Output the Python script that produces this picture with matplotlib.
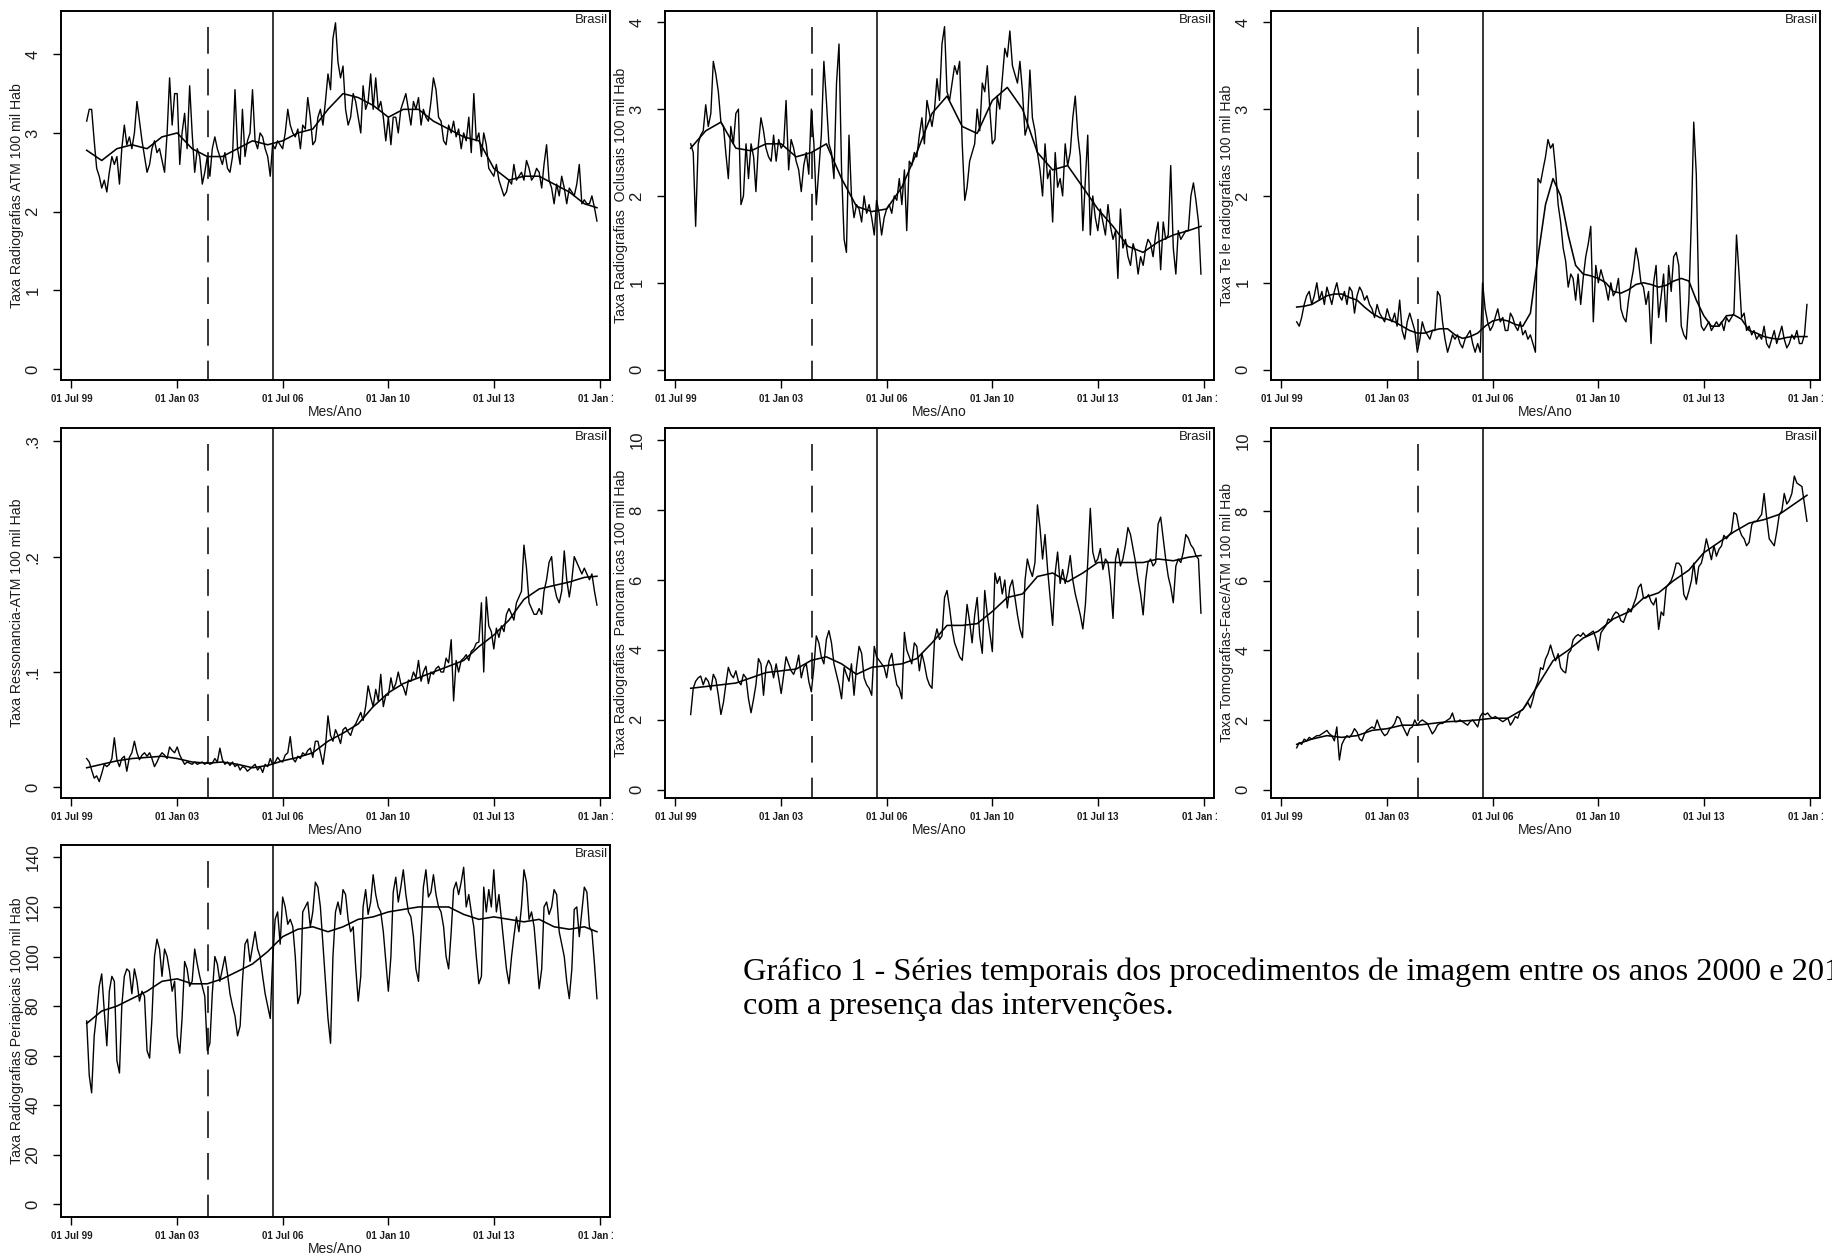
import numpy as np
import pandas as pd
import matplotlib
matplotlib.use("Agg")
import matplotlib.pyplot as plt
import matplotlib.dates as mdates
from matplotlib.transforms import Bbox, TransformedBbox, blended_transform_factory

plt.rcParams['font.family'] = ['Liberation Sans', 'DejaVu Sans']

# ---------------- data (monthly rates, Jan 2000 - Dec 2016) ----------------
months = pd.date_range("2000-01-01", periods=204, freq="MS")
smoothDates = pd.to_datetime([f"{y}-{m:02d}-01" for y in range(2000, 2017) for m in (1, 7)] + ["2016-12-01"])
teleSmoothDates = pd.to_datetime([f"{y}-{m:02d}-01" for y in range(2000, 2017) for m in (1, 4, 7, 10)] + ["2016-12-01"])

atm = [
    3.15, 3.3, 3.3, 2.9, 2.55, 2.45, 2.3, 2.4, 2.25, 2.5, 2.7, 2.6,
    2.7, 2.35, 2.8, 3.1, 2.85, 2.95, 2.8, 3.0, 3.4, 3.15, 2.9, 2.7,
    2.5, 2.6, 2.8, 2.9, 2.75, 2.8, 2.65, 2.5, 3.0, 3.7, 3.1, 3.5,
    3.5, 2.6, 3.0, 3.25, 2.8, 3.6, 3.0, 2.5, 2.8, 2.7, 2.35, 2.5,
    2.7, 2.45, 2.8, 2.95, 2.8, 2.7, 2.6, 2.75, 2.55, 2.5, 2.7, 3.55,
    2.8, 2.6, 3.3, 2.7, 2.9, 3.0, 3.55, 2.9, 2.8, 3.0, 2.95, 2.8,
    2.7, 2.45, 2.85, 2.8, 2.9, 2.85, 2.8, 3.0, 3.3, 3.1, 3.0, 2.95,
    3.05, 2.8, 3.1, 3.05, 3.45, 3.2, 2.85, 2.9, 3.2, 3.3, 3.1, 3.4,
    3.75, 3.55, 4.2, 4.4, 3.9, 3.7, 3.85, 3.3, 3.1, 3.2, 3.5, 3.4,
    3.2, 3.0, 3.6, 3.3, 3.4, 3.75, 3.3, 3.7, 3.3, 3.4, 3.2, 2.9,
    3.2, 2.85, 3.2, 3.2, 3.0, 3.3, 3.4, 3.5, 3.3, 3.1, 3.4, 3.3,
    3.45, 3.1, 3.3, 3.2, 3.15, 3.4, 3.7, 3.55, 3.2, 3.15, 2.9, 2.85,
    3.1, 3.0, 3.15, 2.95, 3.05, 2.8, 3.0, 2.9, 3.2, 2.75, 3.5, 2.9,
    3.0, 2.7, 3.0, 2.85, 2.55, 2.5, 2.45, 2.6, 2.4, 2.3, 2.2, 2.25,
    2.4, 2.35, 2.6, 2.4, 2.45, 2.5, 2.4, 2.65, 2.55, 2.4, 2.45, 2.55,
    2.5, 2.3, 2.6, 2.85, 2.4, 2.3, 2.1, 2.35, 2.2, 2.45, 2.3, 2.1,
    2.3, 2.25, 2.2, 2.35, 2.6, 2.1, 2.15, 2.1, 2.1, 2.2, 2.05, 1.88,
]
atmSmooth = [2.78, 2.65, 2.8, 2.85, 2.8, 2.95, 3.0, 2.8, 2.7, 2.7, 2.8, 2.9, 2.85, 2.9, 3.0, 3.05, 3.3, 3.5,
             3.45, 3.35, 3.2, 3.3, 3.3, 3.15, 3.05, 2.95, 2.9, 2.55, 2.4, 2.45, 2.45, 2.35, 2.25, 2.1, 2.05]

oclusais = [
    2.6, 2.5, 1.65, 2.6, 2.7, 2.75, 3.05, 2.8, 2.95, 3.55, 3.4, 3.2,
    2.85, 2.8, 2.5, 2.2, 2.8, 2.6, 2.95, 3.0, 1.9, 2.0, 2.6, 2.2,
    2.6, 2.45, 2.05, 2.6, 2.9, 2.75, 2.55, 2.45, 2.4, 2.7, 2.4, 2.65,
    2.55, 2.6, 3.1, 2.3, 2.65, 2.55, 2.4, 2.3, 2.05, 2.35, 2.5, 2.25,
    3.0, 2.6, 1.9, 2.3, 2.7, 3.55, 3.1, 2.6, 2.5, 2.2, 3.3, 3.75,
    2.3, 1.5, 1.35, 2.7, 2.0, 1.75, 1.9, 1.85, 1.7, 2.0, 1.8, 1.9,
    1.75, 1.55, 1.95, 1.8, 1.55, 1.75, 1.85, 1.9, 1.8, 2.0, 1.95, 2.2,
    1.9, 2.3, 1.6, 2.4, 2.35, 2.5, 2.45, 2.7, 2.9, 2.6, 3.1, 2.95,
    2.8, 3.0, 3.35, 3.1, 3.75, 3.95, 3.2, 3.1, 3.3, 3.5, 3.4, 3.55,
    2.6, 1.95, 2.1, 2.4, 2.5, 2.6, 3.0, 2.75, 3.3, 3.2, 3.5, 3.0,
    2.6, 2.65, 3.15, 3.0, 3.35, 3.7, 3.6, 3.9, 3.5, 3.4, 3.3, 3.55,
    3.2, 2.7, 2.8, 3.45, 2.9, 2.75, 2.5, 2.3, 2.0, 2.6, 2.2, 2.3,
    1.7, 2.5, 2.1, 2.2, 2.0, 2.6, 2.35, 2.5, 2.9, 3.15, 2.7, 2.45,
    1.6, 2.2, 2.7, 1.55, 2.0, 1.75, 1.6, 1.85, 1.7, 1.55, 1.9, 1.65,
    1.5, 1.6, 1.05, 1.85, 1.4, 1.5, 1.3, 1.2, 1.45, 1.35, 1.1, 1.3,
    1.2, 1.4, 1.5, 1.45, 1.3, 1.55, 1.7, 1.15, 1.7, 1.5, 1.55, 2.35,
    1.4, 1.1, 1.6, 1.5, 1.55, 1.6, 1.6, 2.0, 2.15, 1.95, 1.7, 1.1,
]
oclusaisSmooth = [2.55, 2.75, 2.85, 2.55, 2.52, 2.6, 2.6, 2.45, 2.5, 2.6, 2.2, 1.88, 1.82, 1.85, 2.1, 2.5, 2.95, 3.15,
                  2.8, 2.72, 3.1, 3.25, 3.0, 2.5, 2.3, 2.35, 2.1, 1.85, 1.65, 1.42, 1.35, 1.47, 1.55, 1.6, 1.65]

tele = [
    0.55, 0.5, 0.6, 0.75, 0.85, 0.9, 0.75, 0.85, 1.0, 0.8, 0.9, 0.75,
    0.95, 0.85, 0.75, 0.9, 1.0, 0.85, 0.8, 0.9, 0.75, 0.95, 0.9, 0.65,
    0.85, 0.95, 0.9, 0.8, 0.85, 0.75, 0.7, 0.6, 0.75, 0.65, 0.6, 0.55,
    0.7, 0.6, 0.55, 0.65, 0.5, 0.8, 0.45, 0.35, 0.55, 0.65, 0.55, 0.45,
    0.2, 0.35, 0.55, 0.45, 0.4, 0.35, 0.45, 0.45, 0.9, 0.85, 0.55, 0.35,
    0.2, 0.3, 0.4, 0.35, 0.4, 0.3, 0.25, 0.35, 0.4, 0.45, 0.3, 0.2,
    0.3, 0.2, 1.0, 0.7, 0.55, 0.45, 0.5, 0.6, 0.7, 0.55, 0.6, 0.45,
    0.45, 0.65, 0.6, 0.5, 0.45, 0.55, 0.4, 0.45, 0.35, 0.4, 0.3, 0.2,
    2.2, 2.15, 2.3, 2.45, 2.65, 2.55, 2.6, 2.3, 1.9, 1.7, 1.4, 1.25,
    0.95, 1.1, 1.05, 0.8, 1.1, 0.75, 1.05, 1.3, 1.45, 1.65, 0.55, 1.2,
    1.0, 1.15, 1.05, 0.95, 0.8, 1.0, 0.85, 0.9, 1.05, 0.7, 0.6, 0.55,
    0.8, 1.0, 1.15, 1.4, 1.25, 1.0, 0.95, 0.75, 0.9, 0.3, 1.0, 1.2,
    0.6, 0.85, 1.1, 0.55, 1.2, 0.9, 1.3, 1.35, 1.2, 0.5, 0.4, 0.35,
    0.8, 1.75, 2.85, 2.25, 0.8, 0.5, 0.45, 0.5, 0.55, 0.45, 0.5, 0.55,
    0.5, 0.55, 0.45, 0.6, 0.55, 0.6, 0.65, 1.55, 1.1, 0.6, 0.65, 0.45,
    0.5, 0.4, 0.45, 0.35, 0.4, 0.35, 0.5, 0.3, 0.25, 0.35, 0.45, 0.3,
    0.4, 0.5, 0.35, 0.25, 0.3, 0.4, 0.35, 0.45, 0.3, 0.3, 0.4, 0.75,
]
teleSmooth = [
    0.72, 0.73, 0.75, 0.8, 0.85, 0.87, 0.87, 0.83, 0.8, 0.72, 0.65, 0.6,
    0.58, 0.55, 0.5, 0.45, 0.42, 0.42, 0.45, 0.47, 0.47, 0.4, 0.36, 0.38,
    0.42, 0.5, 0.56, 0.58, 0.56, 0.52, 0.5, 0.65, 1.3, 1.9, 2.2, 2.0,
    1.55, 1.2, 1.1, 1.08, 1.05, 1.0, 0.9, 0.88, 0.92, 0.98, 1.0, 0.98,
    0.95, 0.97, 1.02, 1.05, 1.02, 0.8, 0.62, 0.5, 0.5, 0.62, 0.63, 0.58,
    0.45, 0.42, 0.38, 0.36, 0.35, 0.37, 0.38, 0.38, 0.38,
]

ressonancia = [
    0.025, 0.022, 0.015, 0.008, 0.01, 0.005, 0.012, 0.02, 0.018, 0.02, 0.025, 0.043,
    0.024, 0.018, 0.025, 0.027, 0.014, 0.026, 0.03, 0.04, 0.03, 0.024, 0.028, 0.03,
    0.027, 0.03, 0.025, 0.018, 0.022, 0.027, 0.03, 0.028, 0.025, 0.035, 0.032, 0.03,
    0.035, 0.028, 0.024, 0.02, 0.022, 0.021, 0.02, 0.022, 0.02, 0.021, 0.022, 0.02,
    0.022, 0.02, 0.021, 0.025, 0.022, 0.034, 0.024, 0.02, 0.022, 0.019, 0.022, 0.018,
    0.02, 0.015, 0.018, 0.017, 0.014, 0.016, 0.018, 0.02, 0.015, 0.018, 0.013, 0.02,
    0.018, 0.025, 0.02, 0.022, 0.026, 0.023, 0.022, 0.028, 0.03, 0.044, 0.025, 0.022,
    0.027, 0.025, 0.03, 0.028, 0.032, 0.034, 0.026, 0.04, 0.04, 0.03, 0.02, 0.035,
    0.062, 0.045, 0.04, 0.05, 0.045, 0.038, 0.05, 0.052, 0.048, 0.045, 0.052, 0.055,
    0.06, 0.065, 0.058, 0.07, 0.088, 0.078, 0.07, 0.085, 0.075, 0.098, 0.07, 0.08,
    0.08, 0.095, 0.085, 0.09, 0.1, 0.09, 0.087, 0.08, 0.093, 0.092, 0.1, 0.095,
    0.11, 0.092, 0.1, 0.105, 0.09, 0.1, 0.098, 0.103, 0.105, 0.1, 0.1, 0.112,
    0.108, 0.128, 0.075, 0.11, 0.1, 0.11, 0.112, 0.115, 0.11, 0.118, 0.12, 0.125,
    0.126, 0.16, 0.1, 0.165, 0.14, 0.135, 0.12, 0.138, 0.13, 0.14, 0.135, 0.15,
    0.155, 0.15, 0.145, 0.16, 0.165, 0.17, 0.21, 0.19, 0.16, 0.155, 0.15, 0.15,
    0.155, 0.15, 0.17, 0.18, 0.195, 0.2, 0.175, 0.165, 0.16, 0.17, 0.205, 0.18,
    0.165, 0.18, 0.2, 0.195, 0.19, 0.185, 0.19, 0.185, 0.18, 0.185, 0.17, 0.158,
]
ressonanciaSmooth = [0.017, 0.02, 0.023, 0.025, 0.026, 0.027, 0.025, 0.022, 0.021, 0.022, 0.02, 0.017,
                     0.019, 0.023, 0.026, 0.03, 0.04, 0.047, 0.055, 0.07, 0.082, 0.09, 0.095, 0.1,
                     0.105, 0.11, 0.122, 0.132, 0.145, 0.163, 0.172, 0.175, 0.178, 0.182, 0.183]

panoramicas = [
    2.15, 2.9, 3.1, 3.2, 3.25, 3.0, 3.2, 3.1, 2.85, 3.3, 3.15, 2.7,
    2.15, 2.5, 3.0, 3.5, 3.3, 3.2, 3.4, 3.1, 3.0, 3.3, 3.2, 2.6,
    2.2, 2.6, 3.0, 3.75, 3.6, 2.7, 3.5, 3.7, 3.55, 3.2, 3.6, 3.2,
    2.75, 3.3, 3.8, 3.6, 3.4, 3.3, 3.5, 3.85, 3.2, 3.5, 3.6, 3.1,
    2.8, 3.5, 4.4, 4.2, 3.8, 3.6, 4.3, 4.55, 4.2, 3.6, 3.3, 3.0,
    2.6, 3.5, 3.3, 3.1, 3.6, 2.7, 3.5, 4.1, 3.9, 3.2, 3.0, 2.9,
    2.7, 4.1, 3.8, 3.7, 3.6, 3.5, 3.2, 3.7, 3.9, 3.4, 3.0, 2.9,
    2.6, 4.5, 4.0, 3.8, 3.6, 4.2, 4.1, 3.4, 3.9, 3.6, 3.2, 3.0,
    2.9, 4.3, 4.6, 4.3, 4.4, 5.5, 5.7, 5.2, 4.6, 4.2, 4.0, 3.8,
    3.7, 4.5, 5.3, 4.8, 4.2, 5.0, 5.5, 4.4, 3.9, 5.7, 5.0, 4.5,
    3.95, 6.2, 5.9, 6.1, 5.6, 6.0, 5.2, 5.8, 6.0, 5.5, 5.0, 4.6,
    4.35, 6.0, 6.6, 6.3, 6.1, 6.5, 8.15, 7.5, 6.6, 7.3, 6.3, 5.5,
    4.7, 6.2, 6.8, 5.9, 6.3, 5.9, 6.2, 6.7, 6.0, 5.6, 5.3, 5.0,
    4.6, 5.3, 6.5, 8.05, 6.8, 6.5, 6.6, 6.9, 6.3, 6.6, 6.5, 5.9,
    4.9, 6.6, 6.9, 6.4, 6.6, 7.0, 7.5, 7.3, 6.9, 6.5, 6.0, 5.6,
    5.0, 6.0, 6.5, 6.6, 6.4, 6.5, 7.6, 7.8, 7.2, 6.6, 6.1, 5.8,
    5.35, 6.4, 6.6, 6.5, 6.8, 7.3, 7.2, 7.0, 6.9, 6.7, 6.6, 5.05,
]
panoramicasSmooth = [2.9, 2.95, 3.0, 3.05, 3.2, 3.35, 3.4, 3.45, 3.7, 3.8, 3.6, 3.3, 3.5, 3.55, 3.6, 3.75, 4.2, 4.7,
                     4.7, 4.75, 5.1, 5.5, 5.6, 6.1, 6.2, 5.95, 6.2, 6.5, 6.5, 6.5, 6.5, 6.6, 6.55, 6.65, 6.7]

tomografias = [
    1.2, 1.35, 1.3, 1.45, 1.4, 1.5, 1.45, 1.5, 1.55, 1.55, 1.6, 1.65,
    1.7, 1.6, 1.55, 1.4, 1.8, 0.85, 1.3, 1.45, 1.55, 1.5, 1.6, 1.75,
    1.65, 1.45, 1.4, 1.6, 1.7, 1.75, 1.8, 1.75, 2.0, 1.8, 1.65, 1.55,
    1.6, 1.75, 1.8, 1.9, 2.1, 2.05, 1.85, 1.7, 1.55, 1.75, 1.8, 2.0,
    1.85, 1.95, 2.0, 1.95, 1.9, 1.75, 1.6, 1.7, 1.85, 1.9, 1.9, 1.95,
    2.0, 2.05, 2.2, 1.95, 1.95, 2.0, 1.95, 1.9, 1.85, 1.95, 2.0, 1.9,
    1.8, 2.1, 2.2, 2.15, 2.2, 2.1, 2.05, 2.1, 2.05, 2.0, 1.95, 2.0,
    2.05, 1.85, 1.95, 2.1, 2.05, 2.25, 2.3, 2.4, 2.5, 2.35, 2.6, 2.9,
    3.1, 3.5, 3.45, 3.75, 3.9, 4.15, 3.9, 3.7, 3.9, 3.5, 3.4, 3.35,
    3.9, 4.0, 4.3, 4.4, 4.45, 4.4, 4.5, 4.4, 4.45, 4.5, 4.55, 4.35,
    4.0, 4.5, 4.6, 4.7, 4.9, 4.85, 5.0, 5.1, 5.05, 4.85, 4.8, 5.0,
    5.2, 5.1, 5.3, 5.5, 5.8, 5.9, 5.5, 5.5, 5.6, 5.4, 5.3, 5.5,
    4.6, 5.1, 5.0, 5.8, 5.9, 6.0, 6.2, 6.5, 6.5, 6.4, 5.6, 5.45,
    5.7, 6.0, 6.5, 5.9, 6.4, 6.5, 6.8, 7.2, 6.9, 6.6, 7.0, 6.7,
    6.9, 7.0, 7.3, 7.2, 7.3, 7.4, 7.95, 7.9, 7.5, 7.3, 7.2, 7.0,
    7.1, 7.6, 7.7, 7.7, 7.8, 7.9, 8.5, 7.8, 7.2, 7.1, 7.0, 7.4,
    7.9, 8.0, 8.5, 8.2, 8.3, 8.5, 9.0, 8.8, 8.75, 8.7, 8.2, 7.7,
]
tomografiasSmooth = [1.3, 1.45, 1.55, 1.5, 1.55, 1.7, 1.75, 1.85, 1.85, 1.9, 1.95, 1.97, 2.0, 2.05, 2.05, 2.3, 3.0,
                     3.7, 4.0, 4.35, 4.55, 4.9, 5.1, 5.5, 5.65, 6.0, 6.3, 6.8, 7.1, 7.4, 7.65, 7.75, 7.9, 8.2, 8.45]

periapicais = [
    74, 52, 45, 68, 77, 88, 93, 78, 64, 86, 92, 90,
    58, 53, 80, 92, 95, 94, 85, 95, 90, 82, 86, 84,
    62, 59, 75, 100, 107, 103, 92, 103, 100, 94, 86, 90,
    68, 61, 75, 98, 95, 88, 90, 103, 97, 92, 88, 84,
    62, 65, 85, 100, 97, 90, 95, 100, 93, 85, 80, 76,
    68, 72, 90, 105, 107, 98, 104, 110, 103, 100, 92, 85,
    80, 75, 98, 115, 118, 105, 124, 120, 113, 115, 112, 100,
    81, 85, 118, 120, 122, 112, 118, 130, 128, 120, 105, 90,
    75, 65, 100, 118, 122, 117, 127, 125, 115, 110, 112, 96,
    82, 92, 120, 127, 117, 122, 133, 125, 120, 118, 110, 98,
    86, 100, 126, 132, 122, 128, 135, 125, 118, 116, 108, 95,
    90, 110, 128, 135, 124, 126, 133, 125, 120, 118, 112, 100,
    95, 110, 127, 130, 125, 130, 136, 120, 125, 118, 112, 100,
    89, 92, 128, 118, 127, 120, 135, 118, 125, 115, 105, 95,
    89, 100, 108, 116, 110, 120, 135, 130, 115, 118, 112, 100,
    87, 95, 120, 122, 117, 120, 127, 125, 110, 105, 100, 90,
    83, 95, 119, 120, 108, 118, 128, 126, 112, 110, 97, 83,
]
periapicaisSmooth = [73, 78, 80, 83, 86, 90, 91, 89, 89, 91, 94, 97, 102, 108, 111, 112, 110, 112,
                     115, 116, 118, 119, 120, 120, 120, 117, 115, 116, 115, 114, 115, 112, 111, 112, 110]

yLabels = [
    "Taxa Radiografias ATM 100 mil Hab",
    "Taxa Radiografias  Oclusais 100 mil Hab",
    "Taxa Te le radiografias 100 mil Hab",
    "Taxa Ressonancia-ATM 100 mil Hab",
    "Taxa Radiografias  Panoram icas 100 mil Hab",
    "Taxa Tomografias-Face/ATM 100 mil Hab",
    "Taxa Radiografias Periapicais 100 mil Hab",
]
yTicks = [
    [0, 1, 2, 3, 4],
    [0, 1, 2, 3, 4],
    [0, 1, 2, 3, 4],
    [0, 0.1, 0.2, 0.3],
    [0, 2, 4, 6, 8, 10],
    [0, 2, 4, 6, 8, 10],
    [0, 20, 40, 60, 80, 100, 120, 140],
]
yTickLabels = [
    ["0", "1", "2", "3", "4"],
    ["0", "1", "2", "3", "4"],
    ["0", "1", "2", "3", "4"],
    ["0", ".1", ".2", ".3"],
    ["0", "2", "4", "6", "8", "10"],
    ["0", "2", "4", "6", "8", "10"],
    ["0", "20", "40", "60", "80", "100", "120", "140"],
]
yLims = [(-0.14, 4.55), (-0.12, 4.13), (-0.12, 4.13), (-0.0092, 0.3115), (-0.24, 10.35), (-0.24, 10.38), (-5.1, 145)]

tickDates = ["1999-07-01", "2003-01-01", "2006-07-01", "2010-01-01", "2013-07-01", "2017-01-01"]
tickLabels = ["01 Jul 99", "01 Jan 03", "01 Jul 06", "01 Jan 10", "01 Jul 13", "01 Jan 17"]
dashedDate = "2004-01-15"   # first intervention
solidDate = "2006-03-01"    # second intervention

caption1 = "Gráfico 1 - Séries temporais dos procedimentos de imagem entre os anos 2000 e 2016"
caption2 = "com a presença das intervenções."

series = [
    (atm, atmSmooth, smoothDates),
    (oclusais, oclusaisSmooth, smoothDates),
    (tele, teleSmooth, teleSmoothDates),
    (ressonancia, ressonanciaSmooth, smoothDates),
    (panoramicas, panoramicasSmooth, smoothDates),
    (tomografias, tomografiasSmooth, smoothDates),
    (periapicais, periapicaisSmooth, smoothDates),
]

# ---------------- layout (pixels of the 1832x1253 picture) ----------------
W, H = 1832, 1253
colLeft = [61, 665, 1271]
colWidth = 549
rowTop = [11, 428, 845]
rowHeight = [369, 370, 372]

fig = plt.figure(figsize=(W / 100, H / 100), dpi=100)
fig.patch.set_facecolor("white")

xTicks = pd.to_datetime(tickDates)
xLeft = pd.Timestamp("1999-02-24")
xRight = pd.Timestamp("2017-05-08")
textColor = "#1c1c1c"

for i, (raw, smooth, sDates) in enumerate(series):
    r, c = divmod(i, 3)
    left = colLeft[c]
    top = rowTop[r]
    ax = fig.add_axes([left / W, 1 - (top + rowHeight[r]) / H, colWidth / W, rowHeight[r] / H])

    ax.plot(months, raw, color="black", lw=1.0)
    ax.plot(sDates, smooth, color="black", lw=1.15)

    # interventions: dashed line drawn top-down so the dash pattern starts at the top
    vTrans = blended_transform_factory(ax.transData, ax.transAxes)
    dNum = mdates.date2num(pd.Timestamp(dashedDate))
    ax.plot([dNum, dNum], [0.957, 0.0], transform=vTrans, color="black", lw=1.1, dashes=(17.5, 9.8))
    ax.axvline(pd.Timestamp(solidDate), color="black", lw=1.1)

    ax.set_xlim(xLeft, xRight)
    ax.set_ylim(*yLims[i])
    ax.set_xticks(xTicks)
    ax.set_xticklabels(tickLabels, fontsize=7, fontweight="bold", color=textColor)
    ax.set_yticks(yTicks[i])
    ax.set_yticklabels(yTickLabels[i], fontsize=12, rotation=90, va="center", color=textColor)
    ax.tick_params(axis="x", direction="out", length=6, width=1.0, pad=4)
    ax.tick_params(axis="y", direction="out", length=6, width=1.0, pad=8.8)
    for sp in ax.spines.values():
        sp.set_linewidth(1.4)

    ax.set_xlabel("Mes/Ano", fontsize=10, color=textColor, labelpad=1)
    ax.set_ylabel(yLabels[i], fontsize=10.2, color=textColor)
    ax.yaxis.set_label_coords(-0.068, 0.5)
    ax.text(0.997, 0.992, "Brasil", transform=ax.transAxes, ha="right", va="top",
            fontsize=9.5, color=textColor)

    # each panel was its own picture: cut tick labels at the right border
    clip = TransformedBbox(Bbox([[(left - 70) / W, 0], [(left + colWidth + 3) / W, 1]]), fig.transFigure)
    for lbl in ax.get_xticklabels():
        lbl.set_clip_box(clip)
        lbl.set_clip_on(True)

fig.text(743 / W, 1 - 972 / H, caption1, fontsize=23.3, family="Liberation Serif", va="center")
fig.text(743 / W, 1 - 1006 / H, caption2, fontsize=23.3, family="Liberation Serif", va="center")

fig.savefig("out.png", dpi=100, facecolor="white")
